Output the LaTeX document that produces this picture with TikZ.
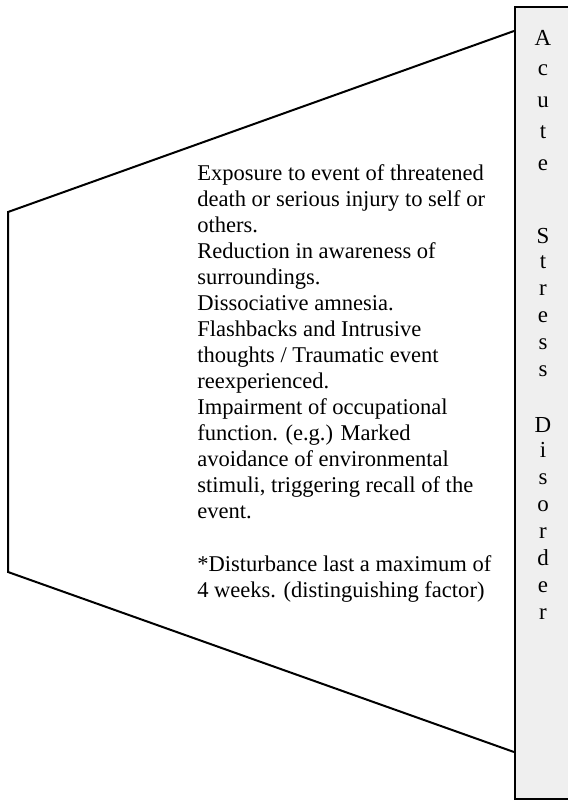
\documentclass[tikz,border=0pt]{standalone}
\usepackage{fontspec}
\setmainfont{Liberation Serif}
\definecolor{boxgray}{RGB}{239,239,239}
\begin{document}
\begin{tikzpicture}[x=0.75pt,y=-0.75pt,
  edge/.style={line width=1.5pt,black},
  bodytext/.style={font=\fontsize{16.9pt}{19.5pt}\selectfont,inner sep=0pt,anchor=base west},
  letter/.style={font=\fontsize{17.2pt}{19.5pt}\selectfont,inner sep=0pt,anchor=base}]
\useasboundingbox (0,0) rectangle (568,801);

% title column on the right (runs past the page edge)
\begin{scope}
  \clip (0,0) rectangle (568,801);
  \node[draw,line width=1.7pt,fill=boxgray,anchor=north west,inner sep=0pt,
        minimum width=49.5pt,minimum height=594pt] (titlebox) at (514,6) {};
\end{scope}

% funnel outline
\coordinate (topin) at (514,31);
\coordinate (topleft) at (8,212);
\coordinate (botleft) at (8,572);
\coordinate (botin) at (514,752);
\draw[edge,line join=miter] (topin) -- (topleft) -- (botleft) -- (botin);

% vertical title, one letter per line
\foreach \yy/\ch [count=\k] in {45/A,75/c,107/u,138/t,170/e,
    243/S,268/t,295/r,322/e,349/s,376/s,
    432/D,457/i,484/s,511/o,538/r,565/d,592/e,619/r}
  \node[letter] (ch\k) at (543,\yy) {\ch};

% criteria text
\node[bodytext] (l1)  at (197,180) {Exposure to event of threatened};
\node[bodytext] (l2)  at (197,206) {death or serious injury to self or};
\node[bodytext] (l3)  at (197,232) {others.};
\node[bodytext] (l4)  at (197,258) {Reduction in awareness of};
\node[bodytext] (l5)  at (197,284) {surroundings.};
\node[bodytext] (l6)  at (197,310) {Dissociative amnesia.};
\node[bodytext] (l7)  at (197,336) {Flashbacks and Intrusive};
\node[bodytext] (l8)  at (197,362) {thoughts / Traumatic event};
\node[bodytext] (l9)  at (197,388) {reexperienced.};
\node[bodytext] (l10) at (197,414) {Impairment of occupational};
\node[bodytext] (l11) at (197,440) {function. (e.g.) Marked};
\node[bodytext] (l12) at (197,466) {avoidance of environmental};
\node[bodytext] (l13) at (197,492) {stimuli, triggering recall of the};
\node[bodytext] (l14) at (197,518) {event.};
\node[bodytext] (l15) at (197,571) {*Disturbance last a maximum of};
\node[bodytext] (l16) at (197,597) {4 weeks. (distinguishing factor)};
\end{tikzpicture}
\end{document}
